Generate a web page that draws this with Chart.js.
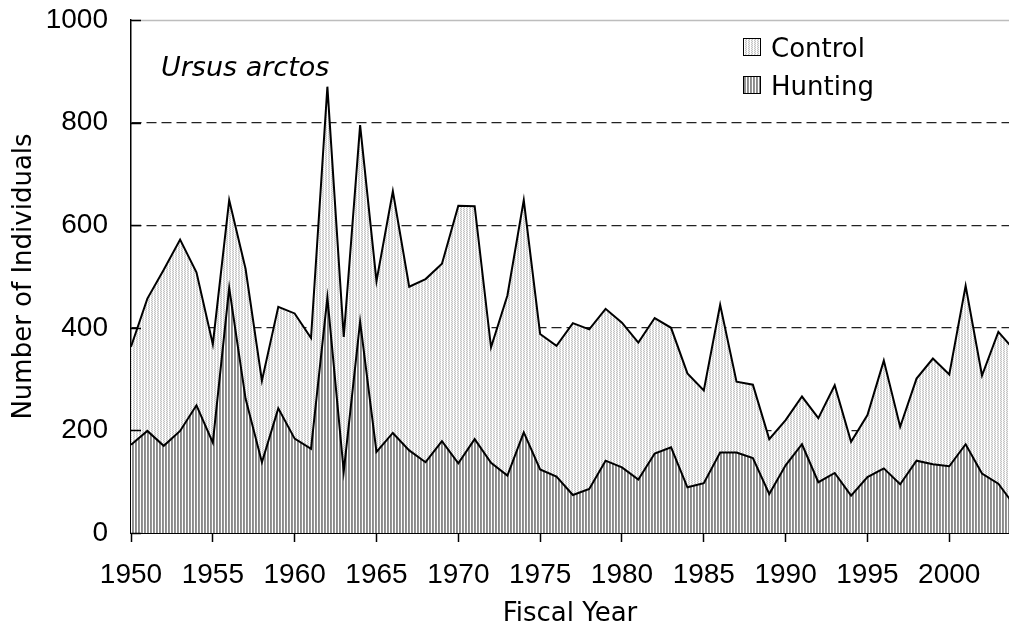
<!DOCTYPE html>
<html>
<head>
<meta charset="utf-8">
<script src="https://cdn.jsdelivr.net/npm/chart.js@4/dist/chart.umd.min.js"></script>
<style>
html,body{margin:0;padding:0;background:#fff;}
#wrap{width:1009px;height:630px;position:relative;}
</style>
</head>
<body>
<div id="wrap"><canvas id="c"></canvas></div>
<script>
const years = [1950,1951,1952,1953,1954,1955,1956,1957,1958,1959,1960,1961,1962,1963,1964,1965,1966,1967,1968,1969,1970,1971,1972,1973,1974,1975,1976,1977,1978,1979,1980,1981,1982,1983,1984,1985,1986,1987,1988,1989,1990,1991,1992,1993,1994,1995,1996,1997,1998,1999,2000,2001,2002,2003,2004];
const hunting = [172,199,170,199,249,176,478,262,138,243,184,164,459,120,412,158,195,161,138,179,136,183,137,112,196,124,110,74,86,141,128,104,155,167,89,97,157,157,146,76,132,173,99,117,73,109,126,95,141,134,130,173,116,96,53];
const control = [191,258,343,373,259,192,171,253,159,198,244,216,411,262,383,333,471,319,357,346,502,454,225,351,453,264,255,335,311,296,282,267,264,233,222,181,288,138,143,107,88,93,125,171,105,121,210,112,160,206,179,309,191,296,303];
const yTicks = [0,200,400,600,800,1000];
const xTicks = [1950,1955,1960,1965,1970,1975,1980,1985,1990,1995,2000];
const seriesNames = ['Control','Hunting'];
const speciesLabel = 'Ursus arctos';
const xTitle = 'Fiscal Year';
const yTitle = 'Number of Individuals';

function makePattern(cols){
  const w = cols.length, h = cols[0].length;
  const c = document.createElement('canvas'); c.width = w; c.height = h;
  const g = c.getContext('2d');
  for (let x=0;x<w;x++) for (let y=0;y<h;y++){ g.fillStyle = cols[x][y]; g.fillRect(x,y,1,1); }
  return c;
}
const ctx = document.getElementById('c').getContext('2d');
const huntPat = ctx.createPattern(makePattern([['#8a8a8a','#8a8a8a'],['#969696','#969696'],['#ffffff','#ffffff']]),'repeat');
const ctrlPat = ctx.createPattern(makePattern([['#ffffff','#ffffff'],['#c4c4c4','#ececec'],['#ececec','#c4c4c4']]),'repeat');

const TICK_FONT = {family:'"Liberation Sans", Arial, sans-serif', size:28};
const TITLE_FONT = {family:'"DejaVu Sans", sans-serif', size:26};

const extras = {
  id:'extras',
  afterDatasetsDraw(chart){
    const {ctx, chartArea:a, scales:{y}} = chart;
    ctx.save();
    // top border
    ctx.strokeStyle = '#bdbdbd'; ctx.lineWidth = 1.5;
    ctx.beginPath(); ctx.moveTo(a.left, a.top+0.5); ctx.lineTo(a.right, a.top+0.5); ctx.stroke();
    // inward y tick marks
    ctx.strokeStyle = '#000'; ctx.lineWidth = 1.5;
    yTicks.forEach(v=>{
      const py = Math.round(y.getPixelForValue(v))+0.5;
      ctx.beginPath(); ctx.moveTo(a.left, py); ctx.lineTo(a.left+10, py); ctx.stroke();
    });
    // species label
    ctx.fillStyle = '#000';
    ctx.font = 'oblique 27px "DejaVu Sans", sans-serif';
    ctx.textBaseline = 'alphabetic'; ctx.textAlign = 'left';
    ctx.fillText(speciesLabel, 161, 76);
    // legend
    const pats = [ctrlPat, huntPat];
    ctx.font = '26px "DejaVu Sans", sans-serif';
    seriesNames.forEach((n,i)=>{
      const by = 38.5 + i*38;
      ctx.fillStyle = pats[i];
      ctx.fillRect(743.5, by, 17, 17);
      ctx.strokeStyle = '#000'; ctx.lineWidth = 1;
      ctx.strokeRect(743.5, by, 17, 17);
      ctx.fillStyle = '#000';
      ctx.fillText(n, 771, by + 18);
    });
    ctx.restore();
  }
};

new Chart(ctx, {
  type:'line',
  data:{
    datasets:[
      {label:seriesNames[1], data:years.map((x,i)=>({x, y:hunting[i]})), fill:'origin', backgroundColor:huntPat, borderColor:'#000', borderWidth:2, pointRadius:0, tension:0},
      {label:seriesNames[0], data:years.map((x,i)=>({x, y:control[i]})), fill:'-1', backgroundColor:ctrlPat, borderColor:'#000', borderWidth:2, pointRadius:0, tension:0}
    ]
  },
  options:{
    responsive:true, maintainAspectRatio:false, animation:false,
    devicePixelRatio:1,
    layout:{padding:{top:0, right:0, left:0, bottom:0}},
    plugins:{legend:{display:false}, tooltip:{enabled:false}},
    elements:{line:{borderJoinStyle:'miter'}},
    scales:{
      x:{
        type:'linear', min:1950, max:2003.65,
        afterFit(s){ s.height = 97; s.paddingLeft = 0; s.paddingRight = 0; },
        afterBuildTicks(s){ s.ticks = xTicks.map(v=>({value:v})); },
        ticks:{stepSize:5, includeBounds:false, autoSkip:false, maxRotation:0, color:'#000', font:TICK_FONT, padding:16, callback:v=>String(v)},
        grid:{drawOnChartArea:false, drawTicks:true, tickLength:9, tickColor:'#000', tickWidth:1.5},
        border:{display:true, color:'#000', width:2},
        title:{display:true, text:xTitle, color:'#000', font:TITLE_FONT, padding:{top:0,bottom:0}}
      },
      y:{
        stacked:true, min:0, max:1000,
        afterFit(s){ s.width = 131; s.paddingTop = 20; s.paddingBottom = 0; },
        afterBuildTicks(s){ s.ticks = yTicks.map(v=>({value:v})); },
        ticks:{stepSize:200, color:'#000', font:TICK_FONT, padding:23, callback:v=>String(v)},
        grid:{drawTicks:false, color:(c)=> (c.tick && (c.tick.value===0 || c.tick.value===1000)) ? 'rgba(0,0,0,0)' : '#222', lineWidth:1.2},
        border:{display:true, color:'#000', width:1.5, dash:[10,5]},
        title:{display:true, text:yTitle, color:'#000', font:TITLE_FONT, padding:{top:9,bottom:0}}
      }
    }
  },
  plugins:[extras]
});
</script>
</body>
</html>
